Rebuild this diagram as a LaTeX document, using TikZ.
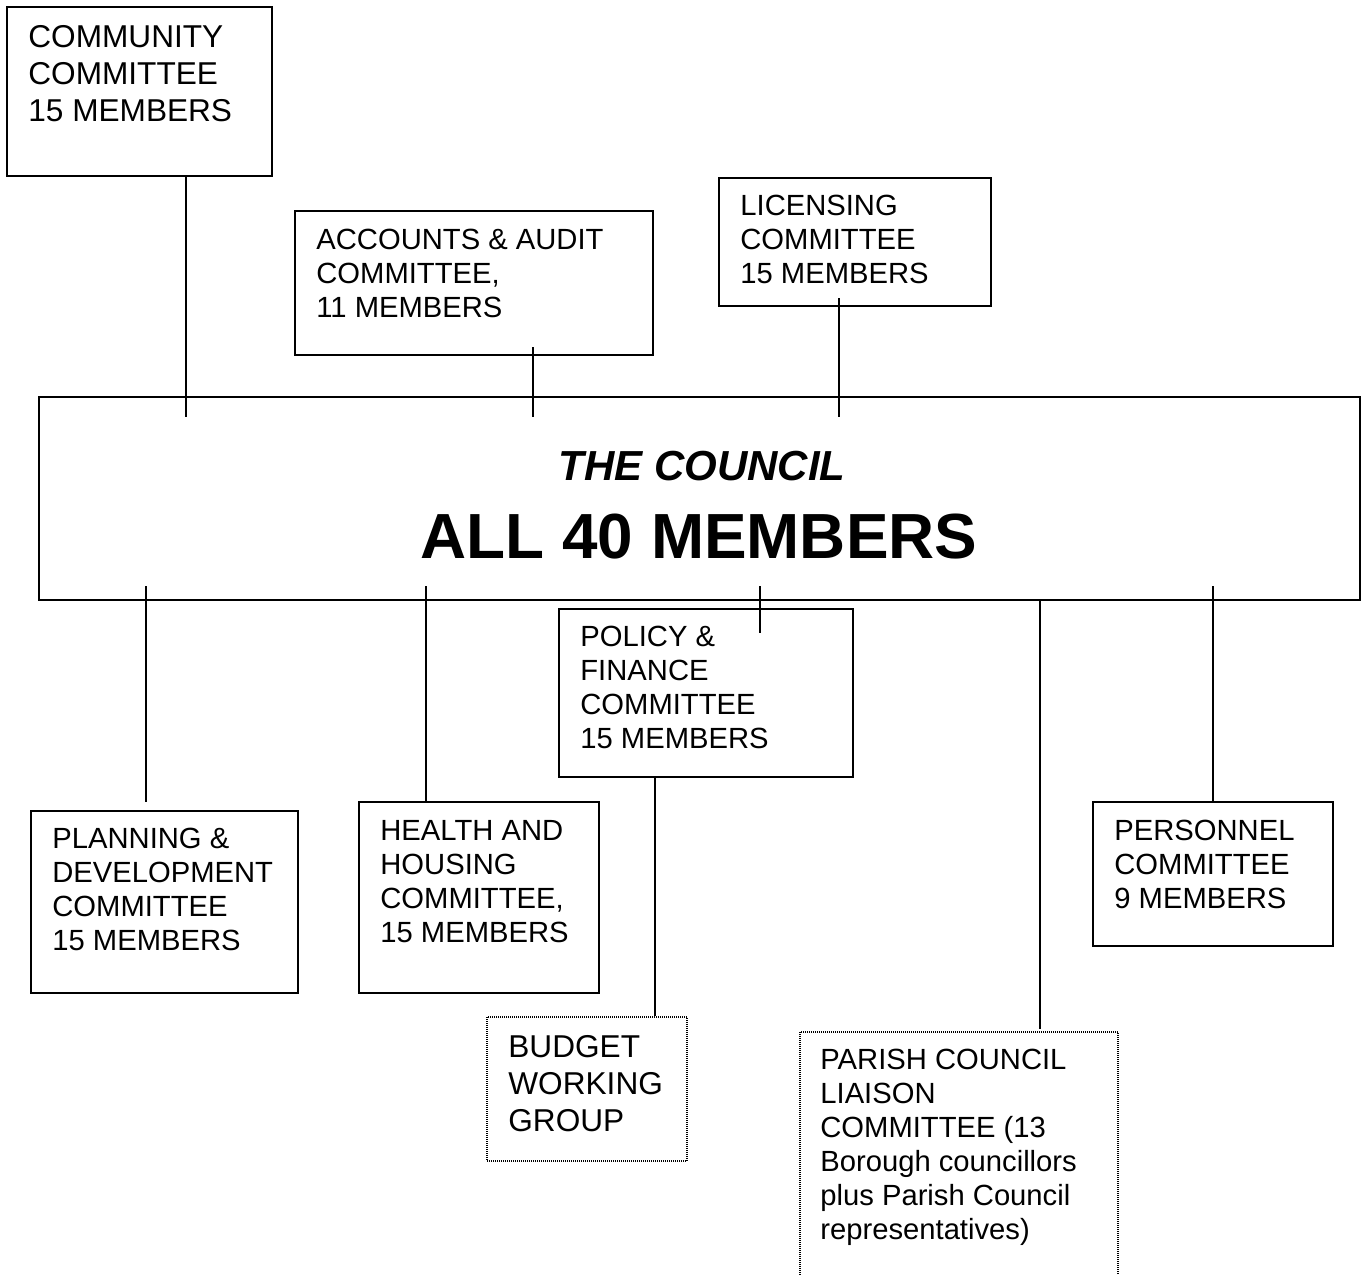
\documentclass[tikz,border=0pt]{standalone}
\usepackage{fontspec}
\setmainfont{Liberation Sans}
\usetikzlibrary{fit,calc}

\tikzset{
  box/.style={draw, line width=1pt, inner sep=0pt, fit={#1}},
  dotbox/.style={draw, line width=1pt, dash pattern=on 0.5pt off 0.5pt, inner sep=0pt, fit={#1}},
  txt/.style={anchor=north west, align=left, inner sep=0pt, font=\fontsize{14.6}{17}\selectfont},
  bigtxt/.style={txt, font=\fontsize{15.8}{18.5}\selectfont},
  link/.style={line width=0.8pt}
}

\begin{document}
\begin{tikzpicture}[x=0.5pt,y=-0.5pt]
\useasboundingbox (0,0) rectangle (1365,1274);
\clip (0,0) rectangle (1365,1274);

% boxes
\node[box={(7,7) (272,176)}] (community) {};
\node[box={(295,211) (653,355)}] (accounts) {};
\node[box={(719,178) (991,306)}] (licensing) {};
\node[box={(39,397) (1360,600)}] (council) {};
\node[box={(559,609) (853,777)}] (policy) {};
\node[box={(31,811) (298,993)}] (planning) {};
\node[box={(359,802) (599,993)}] (health) {};
\node[box={(1093,802) (1333,946)}] (personnel) {};
\node[dotbox={(487,1017) (687,1161)}] (budget) {};
\node[dotbox={(800,1032) (1118,1300)}] (parish) {};

% texts
\path (28,25) node[bigtxt] (community-t) {COMMUNITY\\COMMITTEE\\15 MEMBERS}
		(316,229) node[txt] (accounts-t) {ACCOUNTS \& AUDIT\\COMMITTEE,\\11 MEMBERS}
		(740,195) node[txt] (licensing-t) {LICENSING\\COMMITTEE\\15 MEMBERS}
		(702,480) node[anchor=base, inner sep=0pt, font=\fontsize{21}{25}\selectfont\bfseries\itshape] (council-t) {THE COUNCIL}
		(699,558) node[anchor=base, inner sep=0pt, font=\fontsize{31.9}{38}\selectfont\bfseries] (council-n) {ALL 40 MEMBERS}
		(580,626) node[txt] (policy-t) {POLICY \&\\FINANCE\\COMMITTEE\\15 MEMBERS}
		(52,828) node[txt] (planning-t) {PLANNING \&\\DEVELOPMENT\\COMMITTEE\\15 MEMBERS}
		(380,820) node[txt] (health-t) {HEALTH AND\\HOUSING\\COMMITTEE,\\15 MEMBERS}
		(1114,820) node[txt] (personnel-t) {PERSONNEL\\COMMITTEE\\9 MEMBERS}
		(508,1035) node[bigtxt] (budget-t) {BUDGET\\WORKING\\GROUP}
		(820,1049) node[txt] (parish-t) {PARISH COUNCIL\\LIAISON\\COMMITTEE (13\\Borough councillors\\plus Parish Council\\representatives)};

% connectors
\draw[link] (community.south -| 186,0) -- ($(council.north -| 186,0)+(0,21)$);
\draw[link] ($(accounts.south -| 533,0)+(0,-9)$) -- ($(council.north -| 533,0)+(0,21)$);
\draw[link] ($(licensing.south -| 839,0)+(0,-9)$) -- ($(council.north -| 839,0)+(0,21)$);
\draw[link] ($(council.south -| 146,0)+(0,-15)$) -- ($(planning.north -| 146,0)+(0,-8)$);
\draw[link] ($(council.south -| 426,0)+(0,-15)$) -- (health.north -| 426,0);
\draw[link] ($(council.south -| 760,0)+(0,-15)$) -- ($(policy.north -| 760,0)+(0,25)$);
\draw[link] (council.south -| 1040,0) -- ($(parish.north -| 1040,0)+(0,-2)$);
\draw[link] ($(council.south -| 1213,0)+(0,-15)$) -- (personnel.north -| 1213,0);
\draw[link] (policy.south -| 655,0) -- (budget.north -| 655,0);
\end{tikzpicture}
\end{document}
